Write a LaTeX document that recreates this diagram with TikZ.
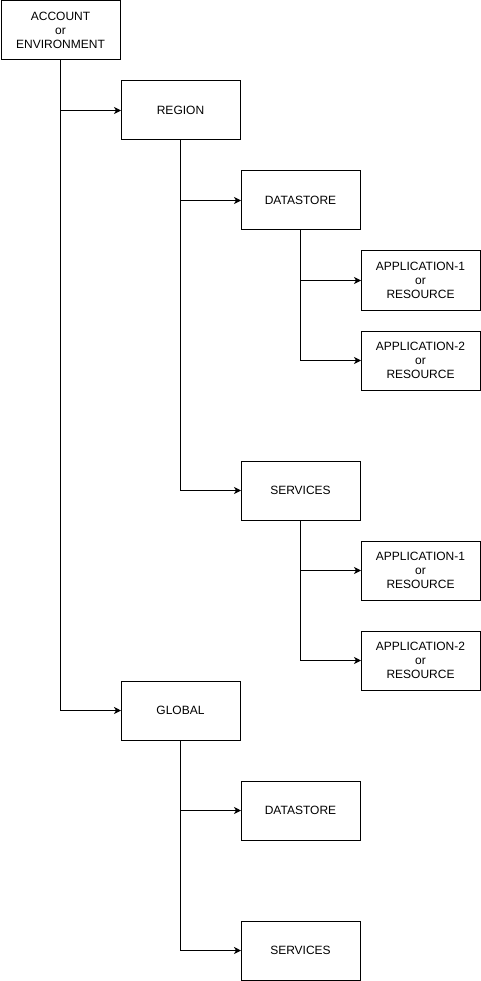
\documentclass[tikz,border=0pt]{standalone}
\usepackage{fontspec}
\setmainfont{Liberation Sans}
\usetikzlibrary{arrows.meta}
\begin{document}
\begin{tikzpicture}[x=1pt,y=-1pt,
  box/.style={draw=black,line width=1pt,fill=white,minimum width=119pt,minimum height=59pt,inner sep=0pt,outer sep=0pt,align=center,font=\fontsize{12}{14}\selectfont},
  conn/.style={draw=black,line width=1pt,-{Stealth[length=7pt,width=7pt,inset=2pt]}}]
\useasboundingbox (0,0) rectangle (481,981);
\node[box] (acc) at (60.5,30.5) {ACCOUNT\\or\\ENVIRONMENT};
\node[box] (reg) at (180.5,110.5) {REGION};
\node[box] (ds1) at (300.5,200.5) {DATASTORE};
\node[box] (a11) at (420.5,280.5) {APPLICATION-1\\or\\RESOURCE};
\node[box] (a12) at (420.5,360.5) {APPLICATION-2\\or\\RESOURCE};
\node[box] (sv1) at (300.5,490.5) {SERVICES};
\node[box] (a21) at (420.5,570.5) {APPLICATION-1\\or\\RESOURCE};
\node[box] (a22) at (420.5,660.5) {APPLICATION-2\\or\\RESOURCE};
\node[box] (glb) at (180.5,710.5) {GLOBAL};
\node[box] (ds2) at (300.5,810.5) {DATASTORE};
\node[box] (sv2) at (300.5,950.5) {SERVICES};
\draw[conn] (acc.south) |- (reg.west);
\draw[conn] (acc.south) |- (glb.west);
\draw[conn] (reg.south) |- (ds1.west);
\draw[conn] (reg.south) |- (sv1.west);
\draw[conn] (ds1.south) |- (a11.west);
\draw[conn] (ds1.south) |- (a12.west);
\draw[conn] (sv1.south) |- (a21.west);
\draw[conn] (sv1.south) |- (a22.west);
\draw[conn] (glb.south) |- (ds2.west);
\draw[conn] (glb.south) |- (sv2.west);
\end{tikzpicture}
\end{document}
